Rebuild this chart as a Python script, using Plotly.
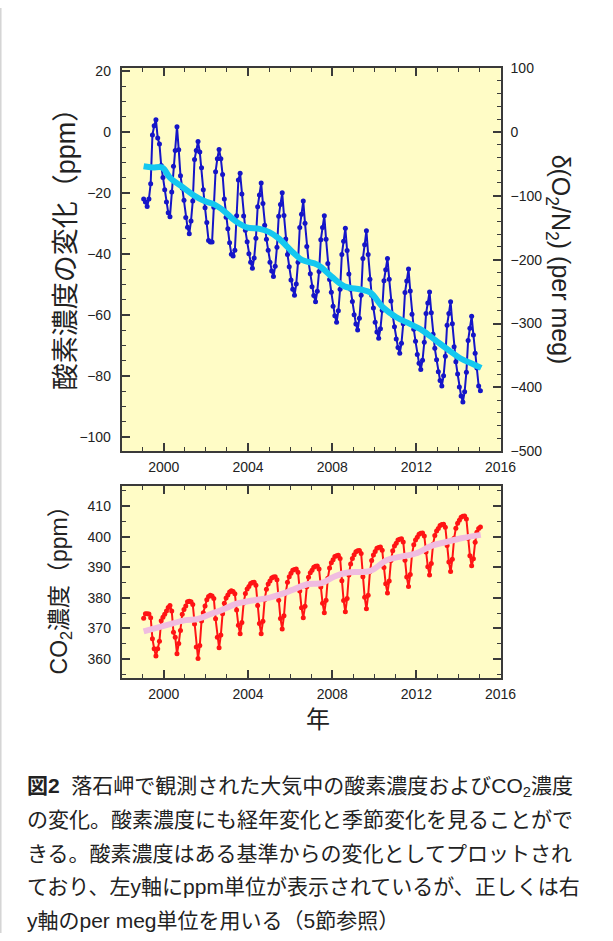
import plotly.graph_objects as go

W, H = 613, 941

start_year = 1999
# O2 change (ppm), monthly from Jan 1999
o2_ppm = [
    -22.0, -23.0, -24.5, -22.0, -17.0, -1.0, 2.0, 4.0, -2.0, -4.0, -11.0, -15.0,
    -19.0, -23.0, -26.5, -27.8, -19.7, -11.3, -6.1, 1.7, -5.9, -14.4, -18.4, -22.4,
    -28.1, -31.3, -33.4, -29.2, -22.7, -9.1, -6.1, -3.2, -6.6, -11.8, -19.0, -24.9,
    -29.7, -35.6, -36.1, -36.1, -24.7, -13.1, -8.8, -5.8, -8.8, -14.0, -22.0, -28.0,
    -31.8, -36.4, -40.1, -40.7, -38.8, -27.5, -15.8, -13.6, -20.4, -27.6, -32.3, -36.0,
    -40.0, -42.8, -44.7, -41.4, -34.9, -24.6, -20.7, -16.8, -23.5, -30.6, -35.2, -38.8,
    -42.8, -45.6, -47.4, -44.1, -37.8, -27.7, -23.8, -20.0, -27.4, -35.1, -40.2, -44.2,
    -48.6, -51.6, -53.6, -49.9, -42.8, -31.4, -27.0, -22.7, -30.0, -37.6, -42.5, -46.5,
    -50.8, -53.7, -55.7, -52.3, -45.8, -35.4, -31.4, -27.5, -35.2, -43.2, -48.4, -52.6,
    -57.2, -60.3, -62.4, -58.7, -51.6, -40.2, -35.9, -31.6, -38.9, -46.6, -51.6, -55.6,
    -60.0, -63.0, -65.0, -61.1, -53.6, -41.5, -37.0, -32.4, -40.2, -48.3, -53.6, -57.8,
    -62.4, -65.6, -67.7, -64.6, -58.5, -48.8, -45.2, -41.5, -48.3, -55.5, -60.2, -63.9,
    -67.9, -70.7, -72.6, -69.3, -62.9, -52.7, -48.9, -45.0, -52.2, -59.8, -64.7, -68.7,
    -73.0, -75.9, -77.9, -74.9, -69.0, -59.6, -56.1, -52.5, -59.3, -66.4, -71.0, -74.7,
    -78.7, -81.5, -83.3, -80.0, -73.6, -63.4, -59.6, -55.7, -62.9, -70.5, -75.4, -79.4,
    -83.7, -86.6, -88.6, -85.2, -78.8, -68.4, -64.4, -60.5, -66.6, -72.6, -77.4, -83.3,
    -84.9,
]

# O2 deseasonalised trend
o2_trend_year = [1999.04, 1999.46, 1999.92, 2000.31, 2000.85, 2001.38, 2001.93, 2002.39,
                 2002.85, 2003.39, 2003.93, 2004.55, 2005.01, 2005.47, 2006.10, 2006.56,
                 2007.31, 2007.96, 2008.57, 2009.35, 2009.81, 2010.42, 2011.05, 2011.67,
                 2012.28, 2012.90, 2013.52, 2014.13, 2014.68, 2015.08]
o2_trend_ppm = [-11.3, -11.7, -11.7, -15.2, -17.9, -20.6, -22.7, -23.8,
                -25.9, -29.2, -31.3, -31.8, -32.9, -35.0, -39.3, -42.0,
                -43.6, -47.4, -50.6, -51.7, -52.7, -57.6, -60.8, -62.9,
                -65.1, -68.3, -71.5, -74.4, -76.1, -77.4]

# CO2 concentration (ppm), monthly from Jan 1999
co2_ppm = [
    373.3, 374.8, 374.8, 374.7, 373.5, 366.6, 363.3, 360.9, 363.3, 365.8, 372.5, 373.6,
    374.6, 375.7, 376.8, 377.5, 375.7, 368.7, 367.1, 361.7, 365.0, 369.3, 374.6, 376.2,
    377.3, 378.7, 378.9, 378.7, 377.8, 371.4, 363.9, 360.1, 364.4, 372.4, 375.1, 377.3,
    379.4, 380.4, 380.8, 380.6, 379.8, 373.1, 367.1, 363.6, 367.8, 374.8, 378.2, 379.9,
    380.9, 381.9, 382.3, 382.1, 381.3, 376.0, 371.0, 368.2, 371.9, 378.3, 381.4, 382.9,
    383.7, 384.7, 385.0, 385.1, 384.1, 377.5, 371.6, 368.2, 372.3, 379.4, 382.8, 384.5,
    385.5, 386.5, 386.8, 386.9, 385.9, 379.2, 373.2, 369.8, 374.1, 381.6, 385.1, 386.9,
    388.0, 389.0, 389.3, 389.4, 388.4, 382.2, 376.7, 373.5, 377.2, 383.6, 386.7, 388.2,
    389.0, 390.0, 390.3, 390.4, 389.4, 383.5, 378.2, 375.1, 379.2, 386.4, 389.8, 391.5,
    392.5, 393.5, 393.8, 393.9, 392.9, 385.6, 379.1, 375.4, 379.8, 387.5, 391.1, 392.9,
    394.1, 395.1, 395.4, 395.5, 394.5, 386.9, 380.2, 376.4, 380.8, 388.5, 392.2, 394.0,
    395.2, 396.2, 396.5, 396.6, 395.6, 389.9, 384.6, 381.6, 385.5, 392.2, 395.4, 397.0,
    397.9, 398.9, 399.2, 399.3, 398.3, 392.3, 386.8, 383.7, 387.6, 394.2, 397.4, 398.9,
    399.8, 400.8, 401.1, 401.2, 400.2, 395.0, 390.2, 387.5, 391.2, 397.5, 400.4, 401.9,
    402.7, 403.7, 404.0, 404.1, 403.1, 397.1, 391.7, 388.6, 392.6, 399.5, 402.8, 404.4,
    405.4, 406.4, 406.7, 406.8, 405.8, 399.5, 393.8, 390.5, 392.8, 398.2, 401.5, 402.7,
    403.2,
]

co2_trend_year = [1999.04, 2000.04, 2001.04, 2001.58, 2002.20, 2002.82, 2003.43, 2004.21,
                  2004.98, 2005.75, 2006.11, 2006.88, 2007.50, 2008.11, 2008.73, 2009.81,
                  2010.58, 2011.20, 2011.97, 2012.74, 2013.36, 2014.13, 2015.06]
co2_trend_ppm = [369.0, 370.9, 372.7, 373.0, 374.6, 376.2, 378.0, 379.1,
                 380.0, 381.6, 382.6, 384.5, 384.8, 387.0, 388.3, 388.8,
                 392.3, 393.4, 394.5, 397.1, 398.2, 399.5, 400.6]

x_ticks = [2000, 2004, 2008, 2012, 2016]

caption_lines = [
    "<b>図2</b>  落石岬で観測された大気中の酸素濃度およびCO<sub>2</sub>濃度",
    "の変化。酸素濃度にも経年変化と季節変化を見ることがで",
    "きる。酸素濃度はある基準からの変化としてプロットされ",
    "ており、左y軸にppm単位が表示されているが、正しくは右",
    "y軸のper meg単位を用いる（5節参照）",
]

months_o2 = [start_year + (i + 0.5) / 12 for i in range(len(o2_ppm))]
months_co2 = [start_year + (i + 0.5) / 12 for i in range(len(co2_ppm))]

FONT = "Liberation Sans, Noto Sans CJK JP, sans-serif"
TXT = "#222222"
FRAME = "#3a3a3a"
BG = "#FFFCC6"

def px_x(v):
    return v / W

def px_y(v):
    return 1 - v / H

fig = go.Figure()

fig.add_trace(go.Scatter(x=months_o2, y=o2_ppm, mode="lines+markers",
                         line=dict(color="#1515C8", width=2),
                         marker=dict(color="#1515C8", size=5),
                         xaxis="x", yaxis="y", showlegend=False, hoverinfo="skip"))
fig.add_trace(go.Scatter(x=o2_trend_year, y=o2_trend_ppm, mode="lines",
                         line=dict(color="#14C8F0", width=6, shape="spline"),
                         xaxis="x", yaxis="y", showlegend=False, hoverinfo="skip"))
fig.add_trace(go.Scatter(x=[1998], y=[0], mode="markers", marker=dict(opacity=0),
                         xaxis="x", yaxis="y2", showlegend=False, hoverinfo="skip"))
fig.add_trace(go.Scatter(x=months_co2, y=co2_ppm, mode="lines+markers",
                         line=dict(color="#FF1414", width=2),
                         marker=dict(color="#FF1414", size=5),
                         xaxis="x2", yaxis="y3", showlegend=False, hoverinfo="skip"))
fig.add_trace(go.Scatter(x=co2_trend_year, y=co2_trend_ppm, mode="lines",
                         line=dict(color="#F0BCE0", width=6, shape="spline"),
                         xaxis="x2", yaxis="y3", showlegend=False, hoverinfo="skip"))

xdom = [125 / W, 514 / W]
ydom_top = [px_y(451), px_y(61)]
ydom_bot = [px_y(682), px_y(486)]

common = dict(showgrid=False, zeroline=False, showline=True, linecolor=FRAME, linewidth=2,
              ticks="inside", ticklen=8, tickwidth=1.5, tickcolor=FRAME,
              tickfont=dict(family=FONT, size=14, color=TXT))

fig.update_layout(
    width=W, height=H, autosize=False,
    margin=dict(l=0, r=0, t=0, b=0),
    paper_bgcolor="white", plot_bgcolor=BG,
    xaxis=dict(domain=xdom, anchor="y", range=[1998, 2016], tickvals=x_ticks,
               mirror="ticks", minor=dict(dtick=1, tick0=1998, ticks="inside", ticklen=4,
                                          tickwidth=1.2, tickcolor=FRAME),
               ticklabelstandoff=2, **common),
    yaxis=dict(domain=ydom_top, anchor="x", range=[-104.76, 20.95], dtick=20, tick0=0,
               mirror=True, minor=dict(dtick=5, tick0=0, ticks="inside", ticklen=4,
                                       tickwidth=1.2, tickcolor=FRAME),
               ticklabelstandoff=6, **common),
    yaxis2=dict(overlaying="y", anchor="x", side="right", range=[-500, 100], dtick=100, tick0=0,
                minor=dict(dtick=20, tick0=0, ticks="inside", ticklen=4, tickwidth=1.2,
                           tickcolor=FRAME),
                ticklabelstandoff=9,
                **{**common, "showline": False}),
    xaxis2=dict(domain=xdom, anchor="y3", range=[1998, 2016], tickvals=x_ticks,
                mirror="ticks", minor=dict(dtick=1, tick0=1998, ticks="inside", ticklen=4,
                                           tickwidth=1.2, tickcolor=FRAME),
                ticklabelstandoff=2, **common),
    yaxis3=dict(domain=ydom_bot, anchor="x2", range=[353.6, 416.7], dtick=10, tick0=360,
                mirror="ticks", minor=dict(dtick=5, tick0=355, ticks="inside", ticklen=4,
                                           tickwidth=1.2, tickcolor=FRAME),
                ticklabelstandoff=6, **common),
    shapes=[dict(type="line", xref="paper", yref="paper", x0=0.8 / W, x1=0.8 / W,
                 y0=0, y1=1, line=dict(color="#d4d4d4", width=1.5))],
)

ann = []
ann.append(dict(x=px_x(68), y=px_y(238), text="酸素濃度の変化（ppm）", textangle=-90,
                font=dict(family=FONT, size=27, color=TXT)))
ann.append(dict(x=px_x(574), y=px_y(256), text="δ(O<sub>2</sub>/N<sub>2</sub>) (per meg)",
                textangle=90, font=dict(family=FONT, size=25, color=TXT)))
ann.append(dict(x=px_x(62), y=px_y(586), text="CO<sub>2</sub>濃度（ppm）", textangle=-90,
                font=dict(family=FONT, size=23, color=TXT)))
ann.append(dict(x=px_x(327), y=px_y(724), text="年",
                font=dict(family=FONT, size=24, color=TXT)))
line_y = [792, 826, 860, 894, 928]
for t, yy in zip(caption_lines, line_y):
    ann.append(dict(x=px_x(26), y=px_y(yy), text=t, xanchor="left",
                    font=dict(family=FONT, size=21, color=TXT)))
for a in ann:
    a.update(xref="paper", yref="paper", showarrow=False)
    a.setdefault("xanchor", "center")
    a.setdefault("yanchor", "middle")
fig.update_layout(annotations=ann)

fig.write_html("out.html", config={"displayModeBar": False},
               post_script="document.body.style.margin='0';")
